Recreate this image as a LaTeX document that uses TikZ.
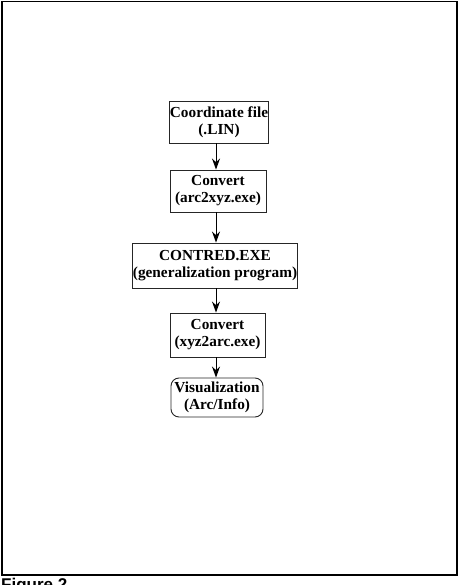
\documentclass[tikz,border=0pt]{standalone}
\usepackage{fontspec}
\setmainfont{Liberation Serif}
\setsansfont{Liberation Sans}
\usetikzlibrary{arrows.meta}
\begin{document}
\begin{tikzpicture}[x=1pt,y=-1pt,
  stepbox/.style={draw=black!85, line width=0.9pt, inner sep=0pt, align=center,
    font=\fontsize{15.3}{17}\selectfont\bfseries},
  flow/.style={draw=black, line width=1pt, -{Stealth[length=11pt,width=8pt]}}]
\useasboundingbox (0,0) rectangle (463,585);
\draw[line width=1.4pt] (2,1.5) rectangle (457,575);
\node[font=\sffamily\bfseries\fontsize{17}{18}\selectfont, anchor=north west, inner sep=0pt] (cap) at (1,578) {Figure 2};
\node[stepbox, minimum width=96pt, minimum height=42pt] (b1) at (219,122) {Coordinate file\\(.LIN)};
\node[stepbox, minimum width=96pt, minimum height=42pt] (b2) at (218,191) {Convert\\(arc2xyz.exe)};
\node[stepbox, minimum width=164pt, minimum height=45pt] (b3) at (215,265.5) {CONTRED.EXE\\(generalization program)};
\node[stepbox, minimum width=95pt, minimum height=44pt] (b4) at (217.5,335) {Convert\\(xyz2arc.exe)};
\node[stepbox, minimum width=92pt, minimum height=39pt, rounded corners=8pt] (b5) at (217,397.5) {Visualization\\(Arc/Info)};
\coordinate (ax) at (216,0);
\draw[flow] (b1.south -| ax) -- (b2.north -| ax);
\draw[flow] (b2.south -| ax) -- (b3.north -| ax);
\draw[flow] (b3.south -| ax) -- (b4.north -| ax);
\draw[flow] (b4.south -| ax) -- (b5.north -| ax);
\end{tikzpicture}
\end{document}
